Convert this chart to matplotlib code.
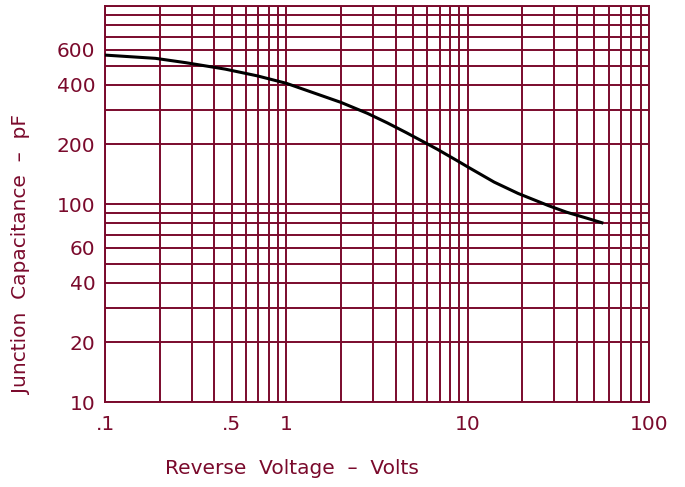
import matplotlib
matplotlib.use("Agg")
import matplotlib.pyplot as plt
from matplotlib.ticker import FixedLocator, FixedFormatter, NullLocator

# curve (reverse volts, junction capacitance pF)
volts = [0.1, 0.19, 0.28, 0.46, 0.69, 1.0, 2.0, 2.8, 3.6, 4.6, 5.6, 6.8, 8.8, 10, 14, 19, 28, 35, 46, 56]
cap_pf = [565, 544, 517, 480, 444, 407, 326, 287, 257, 229, 208, 189, 165, 154, 129, 113, 98, 91, 84.5, 80]

# grid values and which of them carry a label
x_grid = [m * 10.0 ** e for e in (-1, 0, 1) for m in range(1, 10)] + [100]
x_labels = {0.1: ".1", 0.5: ".5", 1: "1", 10: "10", 100: "100"}
y_grid = [m * 10.0 ** e for e in (1, 2) for m in range(1, 10)] + [1000]
y_labels = {10: "10", 20: "20", 40: "40", 60: "60", 100: "100", 200: "200", 400: "400", 600: "600"}

MAROON = "#7a0a2c"


def label_for(v, table):
    for k, s in table.items():
        if abs(v - k) < 1e-6 * k:
            return s
    return ""


def main():
    fig = plt.figure(figsize=(6.85, 4.87), dpi=100)
    ax = fig.add_axes([105 / 685, 1 - 402 / 487, 544 / 685, 396 / 487])

    ax.set_xscale("log")
    ax.set_yscale("log")
    ax.set_xlim(0.1, 100)
    ax.set_ylim(10, 1000)

    ax.xaxis.set_major_locator(FixedLocator(x_grid))
    ax.xaxis.set_major_formatter(FixedFormatter([label_for(v, x_labels) for v in x_grid]))
    ax.xaxis.set_minor_locator(NullLocator())
    ax.yaxis.set_major_locator(FixedLocator(y_grid))
    ax.yaxis.set_major_formatter(FixedFormatter([label_for(v, y_labels) for v in y_grid]))
    ax.yaxis.set_minor_locator(NullLocator())

    ax.grid(True, which="major", color=MAROON, linewidth=1.4)
    ax.tick_params(axis="both", length=0, colors=MAROON, labelsize=14.5)
    ax.tick_params(axis="x", pad=9)
    ax.tick_params(axis="y", pad=7)
    for s in ax.spines.values():
        s.set_color(MAROON)
        s.set_linewidth(1.4)

    ax.plot(volts, cap_pf, color="black", linewidth=2.2, solid_capstyle="butt", zorder=3)

    fig.text(292 / 685, 1 - 469 / 487, "Reverse  Voltage  –  Volts", color=MAROON,
             fontsize=14.5, ha="center", va="center")
    fig.text(22 / 685, 1 - 255 / 487, "Junction  Capacitance  –  pF", color=MAROON,
             fontsize=14.5, ha="center", va="center", rotation=90)

    fig.savefig("out.png", dpi=100)


if __name__ == "__main__":
    main()
